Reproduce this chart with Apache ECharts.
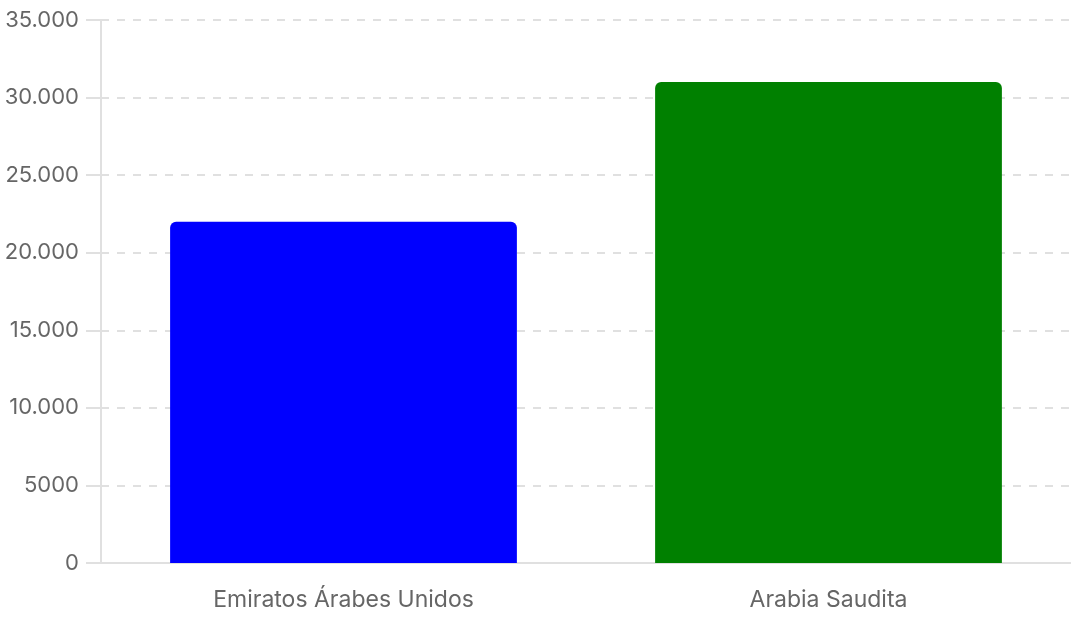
<!DOCTYPE html>
<html>
<head>
<meta charset="utf-8">
<script src="https://cdn.jsdelivr.net/npm/echarts@6/dist/echarts.min.js"></script>
<style>
  html, body { margin: 0; padding: 0; background: #fff; }
  #chart { width: 1071px; height: 620px; }
</style>
</head>
<body>
<div id="chart"></div>
<script>
const categories = ['Emiratos Árabes Unidos', 'Arabia Saudita'];
const values = [22000, 31000];
const barColors = ['#0000ff', '#008000'];

// formato español: sin separador en 4 cifras, punto desde 5 cifras
const fmt = (v) => {
  if (Math.abs(v) < 10000) return String(v);
  return String(v).replace(/\B(?=(\d{3})+(?!\d))/g, '.');
};

const chart = echarts.init(document.getElementById('chart'));
chart.setOption({
  animation: false,
  textStyle: { fontFamily: 'Inter, Liberation Sans, Arial, sans-serif' },
  grid: { left: 101, right: 0, top: 20, bottom: 57 },
  xAxis: {
    type: 'category',
    data: categories,
    axisLine: { lineStyle: { color: '#e0e0e0', width: 2 } },
    axisTick: { show: false },
    axisLabel: { color: '#666', fontSize: 23, margin: 26 }
  },
  yAxis: {
    type: 'value',
    min: 0,
    max: 35000,
    interval: 5000,
    axisLine: { show: true, lineStyle: { color: '#e0e0e0', width: 2 } },
    axisTick: { show: true, length: 15, lineStyle: { color: '#e0e0e0', width: 2 } },
    axisLabel: { color: '#666', fontSize: 22, margin: 22, formatter: fmt },
    splitLine: { lineStyle: { color: '#e0e0e0', width: 2, type: [8, 8] } }
  },
  series: [{
    type: 'bar',
    barWidth: '71.5%',
    data: values.map((v, i) => ({
      value: v,
      itemStyle: { color: barColors[i], borderRadius: [6, 6, 0, 0] }
    }))
  }]
});
</script>
</body>
</html>
